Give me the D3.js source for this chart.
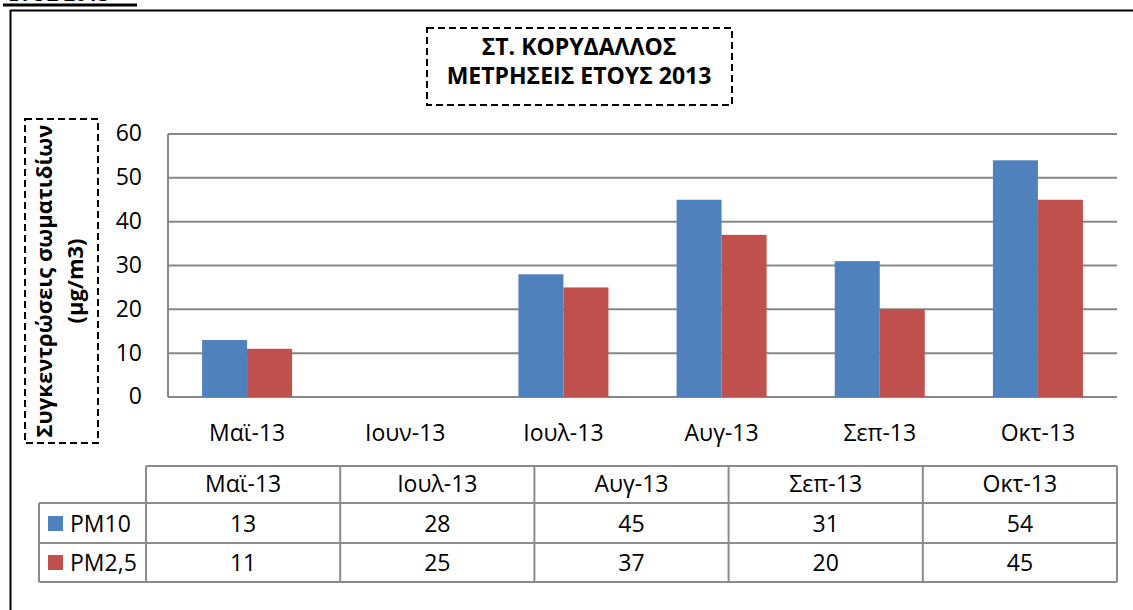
<!DOCTYPE html>
<html>
<head>
<meta charset="utf-8">
<script src="https://cdn.jsdelivr.net/npm/d3@7"></script>
<style>
  body { margin: 0; background: #fff; }
  svg { display: block; font-family: "Open Sans", sans-serif; }
</style>
</head>
<body>
<svg width="1133" height="610"></svg>
<script>
// chart data
const categories = ['Μαϊ-13', 'Ιουν-13', 'Ιουλ-13', 'Αυγ-13', 'Σεπ-13', 'Οκτ-13'];
const seriesNames = ['PM10', 'PM2,5'];
const pm10 = [13, null, 28, 45, 31, 54];
const pm25 = [11, null, 25, 37, 20, 45];
const yTicks = [0, 10, 20, 30, 40, 50, 60];
const titleLines = ['ΣΤ. ΚΟΡΥΔΑΛΛΟΣ', 'ΜΕΤΡΗΣΕΙΣ ΕΤΟΥΣ 2013'];
const yTitleLines = ['Συγκεντρώσεις σωματιδίων', '(μg/m3)'];
const colors = ['#4F81BD', '#C0504D'];

const $svg = d3.select('svg');
const series = [pm10, pm25];

// page frame (top and left black border) + cut-off heading
$svg.append('text').attr('x', 8).attr('y', 1)
    .attr('font-weight', 'bold').attr('font-size', 20).text('ΕΤΟΣ 2013');
$svg.append('rect').attr('x', 3).attr('y', 3.5).attr('width', 134).attr('height', 3).attr('fill', '#000');
$svg.append('line').attr('x1', 10).attr('x2', 1133).attr('y1', 10.5).attr('y2', 10.5)
    .attr('stroke', '#000').attr('stroke-width', 2);
$svg.append('line').attr('x1', 10.5).attr('x2', 10.5).attr('y1', 10).attr('y2', 610)
    .attr('stroke', '#000').attr('stroke-width', 2);

const x = d3.scaleBand().domain(categories).range([168, 1117]);
const xs = d3.scaleBand().domain(seriesNames).range([-45, 45]);
const y = d3.scaleLinear().domain([0, 60]).range([397, 134]);

// gridlines
$svg.append('g').selectAll('line').data(yTicks).join('line')
    .attr('x1', 168).attr('x2', 1117)
    .attr('y1', (d) => y(d)).attr('y2', (d) => y(d))
    .attr('stroke', '#878787').attr('stroke-width', 2);
$svg.append('line').attr('x1', 168).attr('x2', 168).attr('y1', y(60)).attr('y2', y(0))
    .attr('stroke', '#878787').attr('stroke-width', 2);

// y axis labels
const yAxis = $svg.append('g').attr('transform', 'translate(168,0)')
    .call(d3.axisLeft(y).tickValues(yTicks).tickSize(0).tickPadding(26));
yAxis.select('.domain').remove();
yAxis.selectAll('text').attr('font-size', 23).attr('font-family', '"Open Sans", sans-serif')
    .attr('fill', '#000').attr('dy', '0.3em');

// bars
series.forEach((vals, si) => {
    $svg.append('g').selectAll('rect')
        .data(categories.map((c, i) => ({c, v: vals[i]})).filter((d) => d.v != null))
        .join('rect')
        .attr('x', (d) => x(d.c) + x.bandwidth() / 2 + xs(seriesNames[si]))
        .attr('width', xs.bandwidth())
        .attr('y', (d) => y(d.v))
        .attr('height', (d) => y(0) - y(d.v))
        .attr('fill', colors[si]);
});

// category labels
$svg.append('g').selectAll('text').data(categories).join('text')
    .attr('x', (d) => x(d) + x.bandwidth() / 2).attr('y', 441)
    .attr('text-anchor', 'middle').attr('font-size', 23).text((d) => d);

// title box
const $title = $svg.append('g');
$title.append('rect').attr('x', 427).attr('y', 28).attr('width', 305).attr('height', 77)
    .attr('fill', 'none').attr('stroke', '#000').attr('stroke-width', 2).attr('stroke-dasharray', '7,4');
$title.selectAll('text').data(titleLines).join('text')
    .attr('x', 579).attr('y', (d, i) => 55 + i * 29)
    .attr('text-anchor', 'middle').attr('font-weight', 'bold').attr('font-size', 23).text((d) => d);

// y title box
$svg.append('rect').attr('x', 25).attr('y', 119).attr('width', 73).attr('height', 324)
    .attr('fill', 'none').attr('stroke', '#000').attr('stroke-width', 2).attr('stroke-dasharray', '7,4');
$svg.append('g').selectAll('text').data(yTitleLines).join('text')
    .attr('transform', (d, i) => `translate(${52 + i * 31},281) rotate(-90)`)
    .attr('text-anchor', 'middle').attr('font-weight', 'bold').attr('font-size', 22).text((d) => d);

// data table
const tableCats = categories.filter((c, i) => pm10[i] != null);
const tx = d3.scaleBand().domain(tableCats).range([146, 1117]);
const rowY = [466, 503, 543, 582];
const $table = $svg.append('g');
const gray = '#8c8c8c';

// horizontal lines
$table.append('line').attr('x1', 146).attr('x2', 1117).attr('y1', rowY[0]).attr('y2', rowY[0]);
rowY.slice(1).forEach((ry) => {
    $table.append('line').attr('x1', 39).attr('x2', 1117).attr('y1', ry).attr('y2', ry);
});
// vertical lines
$table.append('line').attr('x1', 39).attr('x2', 39).attr('y1', rowY[1]).attr('y2', rowY[3]);
tableCats.concat([null]).forEach((c) => {
    const vx = c == null ? 1117 : tx(c);
    $table.append('line').attr('x1', vx).attr('x2', vx).attr('y1', rowY[0]).attr('y2', rowY[3]);
});
$table.selectAll('line').attr('stroke', gray).attr('stroke-width', 2);

// header
$table.append('g').selectAll('text').data(tableCats).join('text')
    .attr('x', (d) => tx(d) + tx.bandwidth() / 2).attr('y', 492)
    .attr('text-anchor', 'middle').attr('font-size', 23).text((d) => d);

// rows
series.forEach((vals, si) => {
    const baseY = [532, 571][si];
    $table.append('rect').attr('x', 48).attr('y', baseY - 16).attr('width', 15).attr('height', 15)
        .attr('fill', colors[si]);
    $table.append('text').attr('x', 70).attr('y', baseY).attr('font-size', 23).text(seriesNames[si]);
    $table.append('g').selectAll('text')
        .data(categories.map((c, i) => ({c, v: vals[i]})).filter((d) => d.v != null))
        .join('text')
        .attr('x', (d) => tx(d.c) + tx.bandwidth() / 2).attr('y', baseY)
        .attr('text-anchor', 'middle').attr('font-size', 23).text((d) => d.v);
});
</script>
</body>
</html>
